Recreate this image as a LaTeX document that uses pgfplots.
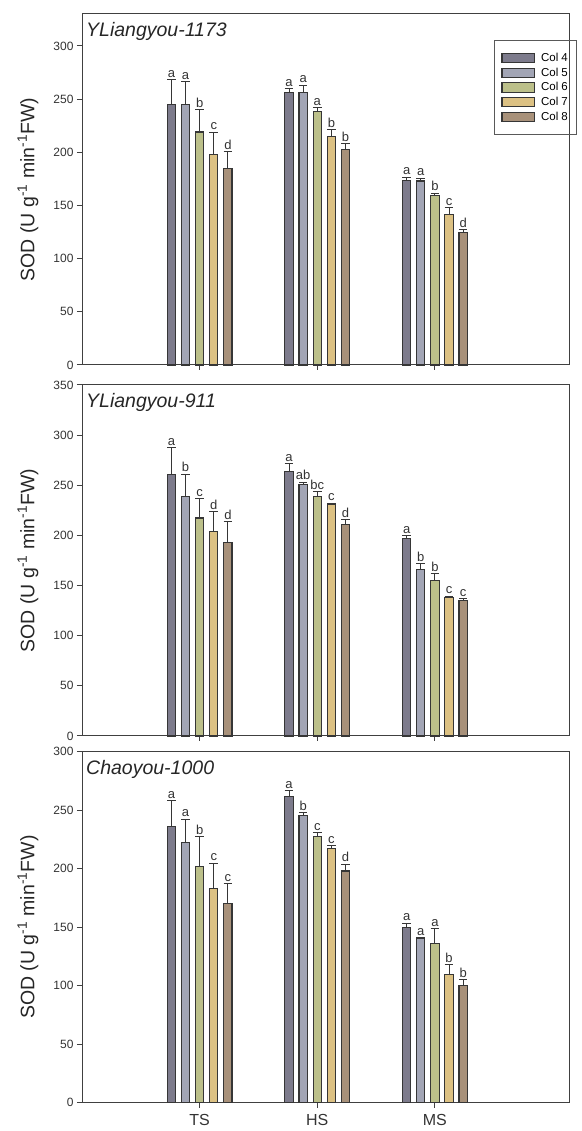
\documentclass[border=0pt]{standalone}
\usepackage{pgfplots}
\usepackage{pgfplotstable}
\usepackage{fontspec}
\setmainfont{Liberation Sans}
\pgfplotsset{compat=1.18}

\definecolor{c4}{HTML}{7D7B8C}
\definecolor{c5}{HTML}{A2A5B5}
\definecolor{c6}{HTML}{BCC08A}
\definecolor{c7}{HTML}{DCC183}
\definecolor{c8}{HTML}{A8917A}
\definecolor{edge}{HTML}{363636}

% x: 1=TS, 2=HS, 3=MS ; y = mean, e = SE, l = letter
\pgfplotstableread{
x y4 e4 l4 y5 e5 l5 y6 e6 l6 y7 e7 l7 y8 e8 l8
1 245 23 a 244.6 22 a 219 21 b 198 21 c 184.6 16 d
2 256 4 a 256 7 a 238 4 a 215 6 b 203 5 b
3 173.6 3 a 173 2.5 a 159 2.5 b 141.8 6 c 124.5 3 d
}\tabA
\pgfplotstableread{
x y4 e4 l4 y5 e5 l5 y6 e6 l6 y7 e7 l7 y8 e8 l8
1 260.4 27 a 238.6 22.6 b 217.4 19 c 204 20 d 192.5 21.5 d
2 263.4 8 a 250.5 2.7 ab 238.9 4.6 bc 230.6 1.7 c 211 5 d
3 196.5 3.3 a 166.3 5.3 b 154.8 7 b 138.5 1 c 135.2 2 c
}\tabB
\pgfplotstableread{
x y4 e4 l4 y5 e5 l5 y6 e6 l6 y7 e7 l7 y8 e8 l8
1 236 22 a 222.7 19.7 a 201.6 26 b 183.4 21.4 c 170 17.3 c
2 262 4.7 a 245.5 2.5 b 227.6 3.4 c 217 2.9 c 198 6 d
3 150 3.4 a 140 1 a 135.8 13 a 109.8 8.2 b 100 5 b
}\tabC

\newcommand\series[4]{%
  \addplot[ybar, bar width=8.3pt, bar shift=0pt, fill=#4, draw=edge, line width=1.1pt,
    error bars/.cd, y dir=plus, y explicit,
    error bar style={line width=1pt, color=edge},
    error mark options={rotate=90, mark size=4.3pt, line width=1pt, color=edge}]
    table[x expr=\thisrow{x}+#3, y=y#2, y error=e#2] {#1};
  \addplot[forget plot, only marks, mark=none, nodes near coords,
    point meta=explicit symbolic,
    every node near coord/.append style={anchor=south, inner sep=0.5pt, yshift=1.5pt,
      font=\fontsize{13}{14}\selectfont, text=black!80}]
    table[x expr=\thisrow{x}+#3, y expr=\thisrow{y#2}+\thisrow{e#2}, meta=l#2] {#1};
}
\newcommand\allseries[1]{%
  \series{#1}{4}{-0.24}{c4}
  \series{#1}{5}{-0.12}{c5}
  \series{#1}{6}{0}{c6}
  \series{#1}{7}{0.12}{c7}
  \series{#1}{8}{0.24}{c8}
}

\pgfplotsset{panel/.style={
  scale only axis, width=487pt, height=351pt,
  xmin=0, xmax=4.14, ymin=0,
  axis line style={black!75, line width=1pt},
  tick style={black!75, line width=1pt},
  tick align=outside, xtick pos=lower, ytick pos=left,
  major tick length=5pt,
  xtick={1,2,3},
  ticklabel style={font=\fontsize{12}{14}\selectfont, text=black!80},
  xticklabel style={font=\fontsize{16}{18}\selectfont, yshift=-3pt},
  /pgf/number format/assume math mode=true,
  ylabel={SOD (U g\textsuperscript{-1} min\textsuperscript{-1}FW)},
  every axis y label/.style={at={(rel axis cs:0,0.5)}, rotate=90, anchor=center,
    yshift=54pt, font=\fontsize{19.5}{22}\selectfont, text=black!85},
  every axis title/.style={at={(rel axis cs:0,1)}, anchor=north west, inner sep=0pt,
    xshift=4pt, yshift=-8pt, font=\fontsize{19.5}{22}\selectfont\itshape, text=black!85},
  clip=false,
  legend image code/.code={\fill[#1] (0pt,-4.6pt) rectangle (32pt,4.6pt);
    \draw[draw=edge, line width=0.9pt] (0pt,-4.6pt) rectangle (32pt,4.6pt);},
}}

\begin{document}
\begin{tikzpicture}
\path[use as bounding box] (0,0) rectangle (581pt,1131pt);

\begin{axis}[panel, at={(82pt,766pt)}, anchor=south west,
  ymax=330, ytick={0,50,...,300}, xticklabels={},
  title={YLiangyou-1173},
  legend style={at={(rel axis cs:0.846,0.926)}, anchor=north west,
    draw=black!65, line width=0.9pt, fill=none, font=\fontsize{11.5}{12.5}\selectfont,
    nodes={inner sep=1.5pt}, row sep=2pt, inner xsep=7pt, inner ysep=11pt,
    /tikz/every odd column/.append style={column sep=5pt},
    cells={anchor=west}}]
\allseries{\tabA}
\legend{Col 4, Col 5, Col 6, Col 7, Col 8}
\end{axis}

\begin{axis}[panel, at={(82pt,395pt)}, anchor=south west,
  ymax=350, ytick={0,50,...,350}, xticklabels={},
  title={YLiangyou-911}]
\allseries{\tabB}
\end{axis}

\begin{axis}[panel, at={(82pt,28.3pt)}, anchor=south west,
  ymax=300, ytick={0,50,...,300}, xticklabels={TS,HS,MS},
  title={Chaoyou-1000}]
\allseries{\tabC}
\end{axis}
\end{tikzpicture}
\end{document}
